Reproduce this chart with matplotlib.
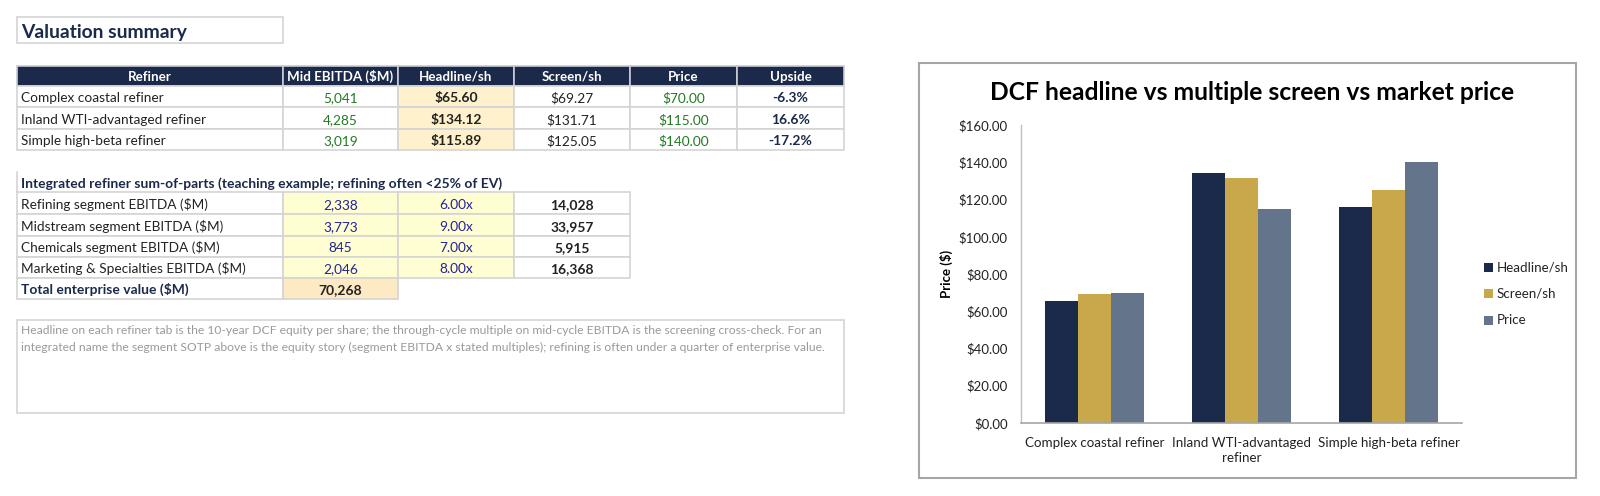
import matplotlib
matplotlib.use("Agg")
import matplotlib.pyplot as plt
from matplotlib.patches import Rectangle
from matplotlib.textpath import TextPath
from matplotlib.font_manager import FontProperties

# ---------------- data ----------------
refiners = ["Complex coastal refiner", "Inland WTI-advantaged refiner", "Simple high-beta refiner"]
chart_categories = ["Complex coastal refiner", "Inland WTI-advantaged\nrefiner", "Simple high-beta refiner"]
mid_ebitda = [5041, 4285, 3019]
headline = [65.60, 134.12, 115.89]
screen = [69.27, 131.71, 125.05]
price = [70.00, 115.00, 140.00]
upside = [-6.3, 16.6, -17.2]
table1_headers = ["Refiner", "Mid EBITDA ($M)", "Headline/sh", "Screen/sh", "Price", "Upside"]

segments = ["Refining segment EBITDA ($M)", "Midstream segment EBITDA ($M)",
            "Chemicals segment EBITDA ($M)", "Marketing & Specialties EBITDA ($M)"]
seg_ebitda = [2338, 3773, 845, 2046]
seg_mult = [6.00, 9.00, 7.00, 8.00]
seg_value = [14028, 33957, 5915, 16368]
total_ev = 70268

series_names = ["Headline/sh", "Screen/sh", "Price"]
yticks = [0, 20, 40, 60, 80, 100, 120, 140, 160]

title_main = "Valuation summary"
sotp_title = "Integrated refiner sum-of-parts (teaching example; refining often <25% of EV)"
note_lines = [
    "Headline on each refiner tab is the 10-year DCF equity per share; the through-cycle multiple on mid-cycle EBITDA is the screening cross-check. For an",
    "integrated name the segment SOTP above is the equity story (segment EBITDA x stated multiples); refining is often under a quarter of enterprise value.",
]
chart_title = "DCF headline vs multiple screen vs market price"

# ---------------- style ----------------
FONT = "Lato"
NAVY = "#1B2A4A"
GOLD = "#C9A84C"
SLATE = "#64748B"
GRID = "#D4D4D4"
GREEN = "#237A23"
BLUE = "#22229A"
DARK = "#222222"
HEAD_FILL = "#FFF1CC"
INPUT_FILL = "#FFFDD2"
TOTAL_FILL = "#FDE9C4"
NOTE_GREY = "#9A9A9A"
SERIES_COLORS = [NAVY, GOLD, SLATE]

W, H = 1600, 496


def fit_size(text, target_px, weight="normal"):
    fp = FontProperties(family=FONT, weight=weight)
    w = TextPath((0, 0), text, size=100, prop=fp).get_extents().width
    return target_px * 72.0 / w


def fit_avg(pairs, weight="normal"):
    vals = [fit_size(t, px, weight) for t, px in pairs]
    return sum(vals) / len(vals)


body_fs = fit_avg([("Complex coastal refiner", 139), ("Refining segment EBITDA ($M)", 181),
                   ("Marketing & Specialties EBITDA ($M)", 218), ("Inland WTI-advantaged refiner", 181),
                   ("$131.71", 52)])
bold_fs = fit_avg([("Total enterprise value ($M)", 181), ("$134.12", 52), ("Mid EBITDA ($M)", 104)], "bold")
bold_fs = min(bold_fs, body_fs * 1.02)
head_fs = min(bold_fs, fit_size("Mid EBITDA ($M)", 104, "bold"))
vs_fs = fit_size(title_main, 166, "bold")
note_fs = fit_size(note_lines[0], 798)
ctitle_fs = fit_size(chart_title, 523, "bold")
tick_fs = fit_size("$160.00", 48)
cat_fs = fit_size("Complex coastal refiner", 139)

plt.rcParams["font.family"] = [FONT, "DejaVu Sans"]

fig = plt.figure(figsize=(W / 100, H / 100), dpi=100)
bg = fig.add_axes([0, 0, 1, 1])
bg.set_xlim(0, W)
bg.set_ylim(H, 0)
bg.axis("off")


def cell(x0, x1, y0, y1, fill="white", edge=GRID, lw=1.2):
    bg.add_patch(Rectangle((x0, y0), x1 - x0, y1 - y0, facecolor=fill, edgecolor=edge, lw=lw, zorder=1))


def txt(x, ybase, s, ha="center", color=DARK, fs=None, weight="normal"):
    bg.text(x, ybase, s, ha=ha, va="baseline", color=color, fontsize=fs or body_fs,
            fontweight=weight, zorder=3)


# Title box
cell(17, 283, 17, 43)
txt(21, 37.7, title_main, ha="left", color=NAVY, fs=vs_fs, weight="bold")

# Table 1
cols = [17, 283, 398, 514, 630, 737, 844]
rows = [66, 86, 107, 129, 150]
for j, h in enumerate(table1_headers):
    cell(cols[j], cols[j + 1], rows[0], rows[1], fill=NAVY, edge="#C8CCD4")
    txt((cols[j] + cols[j + 1]) / 2, rows[1] - 5.2, h, color="white", fs=head_fs, weight="bold")

for i in range(len(refiners)):
    y0, y1 = rows[i + 1], rows[i + 2]
    yb = y1 - 4.8
    fills = ["white", "white", HEAD_FILL, "white", "white", "white"]
    for j in range(6):
        cell(cols[j], cols[j + 1], y0, y1, fill=fills[j])
    cx = [(cols[j] + cols[j + 1]) / 2 for j in range(6)]
    txt(21, yb, refiners[i], ha="left")
    txt(cx[1], yb, f"{mid_ebitda[i]:,}", color=GREEN)
    txt(cx[2], yb, f"${headline[i]:,.2f}", weight="bold", fs=bold_fs)
    txt(cx[3], yb, f"${screen[i]:,.2f}")
    txt(cx[4], yb, f"${price[i]:,.2f}", color=GREEN)
    txt(cx[5], yb, f"{upside[i]:.1f}%", color=NAVY, weight="bold", fs=bold_fs)

# SOTP section
bg.plot([17, 17], [172, 192], color=GRID, lw=1.2, zorder=1)
txt(21, 188.3, sotp_title, ha="left", color=NAVY, weight="bold", fs=bold_fs)
scols = [17, 283, 398, 514, 630]
srows = [192, 214, 236, 257, 278, 299]
for i in range(len(segments)):
    y0, y1 = srows[i], srows[i + 1]
    yb = y1 - 5
    for j, f in enumerate(["white", INPUT_FILL, INPUT_FILL, "white"]):
        cell(scols[j], scols[j + 1], y0, y1, fill=f)
    txt(21, yb, segments[i], ha="left")
    txt((scols[1] + scols[2]) / 2, yb, f"{seg_ebitda[i]:,}", color=BLUE)
    txt((scols[2] + scols[3]) / 2, yb, f"{seg_mult[i]:.2f}x", color=BLUE)
    txt((scols[3] + scols[4]) / 2, yb, f"{seg_value[i]:,}", weight="bold", fs=bold_fs)
y0, y1 = srows[4], srows[5]
cell(scols[0], scols[1], y0, y1)
cell(scols[1], scols[2], y0, y1, fill=TOTAL_FILL)
txt(21, y1 - 5, "Total enterprise value ($M)", ha="left", color=NAVY, weight="bold", fs=bold_fs)
txt((scols[1] + scols[2]) / 2, y1 - 5, f"{total_ev:,}", weight="bold", fs=bold_fs)

# Note box
cell(17, 844, 320, 413)
for k, line in enumerate(note_lines):
    txt(21, 334 + 16.7 * k, line, ha="left", color=NOTE_GREY, fs=note_fs)

# Chart frame
bg.add_patch(Rectangle((919, 63), 1576 - 919, 478 - 63, facecolor="white", edgecolor="#A6A6A6", lw=1.5, zorder=1))
bg.text(1252, 92, chart_title, ha="center", va="center", fontsize=ctitle_fs,
        fontweight="bold", color="black", zorder=3)

# Chart axes
ax = fig.add_axes([1021 / W, (H - 423) / H, (1462 - 1021) / W, (423 - 125) / H])
ax.set_facecolor("none")
bw = 0.225
x = list(range(len(chart_categories)))
for k, (vals, col) in enumerate(zip([headline, screen, price], SERIES_COLORS)):
    ax.bar([xi + (k - 1) * bw for xi in x], vals, width=bw, color=col, label=series_names[k], zorder=2)
ax.set_xlim(-0.5, len(chart_categories) - 0.5)
ax.set_ylim(0, 160)
ax.set_yticks(yticks)
ax.set_yticklabels([f"${v:,.2f}" for v in yticks], fontsize=tick_fs, color="#222222")
ax.set_xticks(x)
ax.set_xticklabels(chart_categories, fontsize=cat_fs, color="#222222", linespacing=1.35)
ax.tick_params(axis="both", length=0)
ax.tick_params(axis="y", pad=9.5)
ax.tick_params(axis="x", pad=10)
for s in ["top", "right"]:
    ax.spines[s].set_visible(False)
ax.spines["left"].set_color("#BFBFBF")
ax.spines["bottom"].set_color("#A6A6A6")
ax.spines["left"].set_linewidth(1.0)
ax.spines["bottom"].set_linewidth(1.2)
ax.set_ylabel("Price ($)", fontsize=tick_fs, fontweight="bold", color="black")
ax.yaxis.set_label_coords((953 - 1021) / (1462 - 1021), 0.5)

# Legend (positioned in pixel space to match the reference)
leg_rows = [267, 293, 320]
for name, col, yy in zip(series_names, SERIES_COLORS, leg_rows):
    bg.add_patch(Rectangle((1484, yy - 4.5), 9, 9, facecolor=col, edgecolor="none", zorder=3))
    bg.text(1497, yy, name, ha="left", va="center", fontsize=cat_fs, color="#222222", zorder=3)

fig.savefig("out.png", dpi=100)
